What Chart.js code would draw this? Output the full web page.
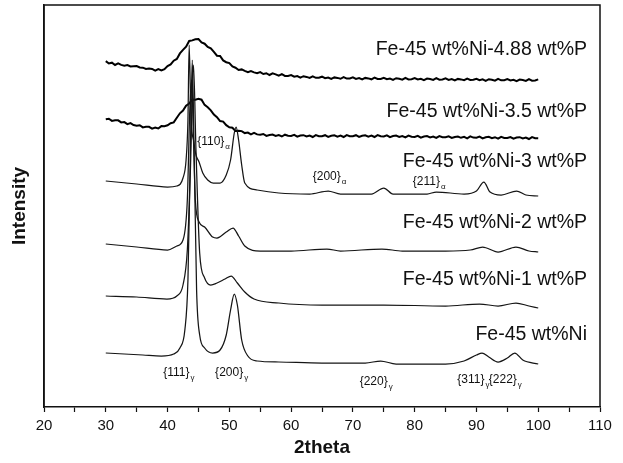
<!DOCTYPE html>
<html>
<head>
<meta charset="utf-8">
<script src="https://cdn.jsdelivr.net/npm/chart.js@4.4.1/dist/chart.umd.min.js"></script>
<style>
  html, body { margin: 0; padding: 0; background: #fff; }
  #wrap { width: 623px; height: 463px; }
</style>
</head>
<body>
<div id="wrap"><canvas id="xrd"></canvas></div>
<script>
// x axis ticks (2theta)
const xTickLabels = [20, 30, 40, 50, 60, 70, 80, 90, 100, 110];

// series names
const seriesNames = [
    "Fe-45 wt%Ni",
    "Fe-45 wt%Ni-1 wt%P",
    "Fe-45 wt%Ni-2 wt%P",
    "Fe-45 wt%Ni-3 wt%P",
    "Fe-45 wt%Ni-3.5 wt%P",
    "Fe-45 wt%Ni-4.88 wt%P"
];

// Fe-45 wt%Ni (stacked intensity, arbitrary units)
const niAngles = [30, 33, 36, 39, 41, 42, 42.8, 43.3, 43.7, 44.0, 44.3, 44.7, 45.2, 46, 47.3, 48.5, 49.5, 50.2, 50.8, 51.3, 52, 53, 54.5, 58, 65, 72, 74.5, 77, 85, 88, 90, 90.9, 92, 93.5, 95, 96.2, 97.5, 100];
const niValues = [54, 53, 52, 51, 53, 59, 77, 127, 257, 347, 257, 117, 72, 59, 54, 57, 72, 97, 113, 102, 67, 51, 46, 45, 44, 44, 46, 43, 43, 46, 52, 54, 50, 45, 49, 54, 47, 43];

// Fe-45 wt%Ni-1 wt%P
const p1Angles = [30, 35, 39.9, 41.5, 42.5, 43.2, 43.7, 44.2, 44.6, 45.2, 46, 47, 48, 49.3, 50.3, 51.3, 52.5, 54, 58, 65, 75, 85, 90.5, 93.5, 96.4, 98.5, 100];
const p1Values = [111, 110, 108, 111, 122, 157, 237, 342, 257, 154, 129, 122, 124, 128, 131, 124, 115, 108, 104, 102, 102, 101, 103, 101, 104, 101, 99];

// Fe-45 wt%Ni-2 wt%P
const p2Angles = [30, 35, 40, 41.5, 42.5, 43.2, 43.6, 43.9, 44.2, 44.5, 45.1, 46, 47.3, 48, 49.5, 50.6, 51.5, 52.5, 55, 60, 65.8, 68, 74.7, 78, 85, 89, 91, 93.5, 96.4, 98.5, 100];
const p2Values = [163, 160, 157, 161, 167, 207, 297, 327, 267, 207, 185, 180, 170, 169, 175, 179, 171, 161, 156, 156, 158, 156, 158, 156, 156, 157, 160, 155, 160, 156, 155];

// Fe-45 wt%Ni-3 wt%P
const p3Angles = [30, 35, 40, 41.5, 42.5, 43.0, 43.3, 43.5, 43.8, 44.2, 44.6, 45.1, 45.7, 46.5, 47.4, 48.5, 49.5, 50.2, 50.8, 51.1, 51.5, 52, 52.5, 54.5, 58, 63, 66, 68, 73, 75, 76.5, 82, 83.5, 88, 90, 91.2, 92.2, 94, 96.5, 98, 100];
const p3Values = [226, 223, 220, 221, 229, 247, 287, 362, 287, 267, 252, 245, 234, 227, 224, 224, 232, 247, 274, 280, 267, 242, 224, 217, 214, 213, 216, 213, 213, 219, 213, 213, 215, 213, 216, 225, 215, 212, 216, 212, 211];

// noisy scans are sampled every 0.5 deg from 30 to 100
const noisyAngles = Array.from({ length: 141 }, (_, i) => 30 + i * 0.5);

// Fe-45 wt%Ni-3.5 wt%P
const p35Values = [
    287.7, 288.3, 286.1, 286.7, 286.7, 284.6, 284.9, 282.8, 283.9, 282,
    281.2, 281.8, 279.6, 280.2, 280.2, 278.4, 279.4, 278.5, 280.9, 280.8,
    281.7, 283.8, 284.6, 289.2, 293.7, 296.4, 301.4, 303.5, 307.4, 307.3,
    308.2, 307.3, 302.1, 299.7, 296.7, 292.4, 289.9, 286, 285.4, 281.8,
    279.7, 279.3, 276.1, 276.2, 275.9, 273.9, 274.4, 272.6, 274.1, 272.6,
    272.2, 273, 271.1, 272, 272.4, 271, 271.9, 270.5, 272.3, 271.2,
    271, 272.1, 270.3, 271.4, 271.8, 270.5, 271.5, 270, 271.9, 270.8,
    270.7, 271.8, 270.1, 271.2, 271.7, 270.4, 271.4, 270, 271.9, 270.8,
    270.7, 271.8, 270.1, 271.2, 271.7, 270.4, 271.4, 270, 271.9, 270.8,
    270.6, 271.7, 269.9, 271, 271.4, 270.1, 271, 269.6, 271.4, 270.3,
    270.1, 271.2, 269.4, 270.5, 270.9, 269.6, 270.5, 269.1, 270.9, 269.8,
    269.7, 270.7, 269, 270, 270.5, 269.2, 270.1, 268.7, 270.6, 269.4,
    269.3, 270.4, 268.6, 269.7, 270.2, 268.8, 269.8, 268.4, 270.2, 269.1,
    269, 270, 268.3, 269.4, 269.8, 268.5, 269.5, 268, 269.9, 268.8,
    268.7
];

// Fe-45 wt%Ni-4.88 wt%P
const p488Values = [
    345.9, 343.5, 344.3, 342, 343.6, 342.1, 341.3, 342, 340.6, 340.8,
    340.9, 339.5, 339.3, 338, 338.6, 338.1, 336.3, 338, 336.6, 337.8,
    340.9, 342.5, 346.3, 348, 353.6, 357.1, 360.3, 366, 366.6, 367.8,
    367.9, 364.5, 363.3, 360, 358.6, 355.1, 351.3, 351, 346.6, 344.8,
    343.9, 340.5, 339.3, 337, 337.6, 336.1, 334.8, 336, 334.6, 333.8,
    334.9, 333, 333.8, 332, 333.6, 332.6, 331.3, 332.8, 331.1, 331,
    331.9, 330.3, 330.9, 329.4, 330.8, 330.1, 329.1, 330.7, 329.2, 329.3,
    330.3, 328.8, 329.5, 328.1, 329.6, 329.1, 328.2, 329.8, 328.4, 328.5,
    329.6, 328.1, 328.9, 327.5, 329.1, 328.6, 327.7, 329.4, 328, 328.1,
    329.2, 327.8, 328.5, 327.2, 328.8, 328.2, 327.4, 329.1, 327.6, 327.8,
    328.9, 327.5, 328.2, 326.9, 328.5, 327.9, 327.1, 328.8, 327.3, 327.5,
    328.6, 327.1, 327.9, 326.6, 328.1, 327.6, 326.8, 328.4, 327, 327.2,
    328.2, 326.8, 327.6, 326.2, 327.8, 327.3, 326.4, 328.1, 326.7, 326.8,
    327.9, 326.5, 327.2, 325.9, 327.5, 326.9, 326.1, 327.8, 326.3, 326.5,
    327.6
];

// text placed on the plot, in data coordinates
const curveLabels = [
    { text: "Fe-45 wt%Ni-4.88 wt%P", x: 107.9, y: 357 },
    { text: "Fe-45 wt%Ni-3.5 wt%P", x: 107.9, y: 295 },
    { text: "Fe-45 wt%Ni-3 wt%P", x: 107.9, y: 245 },
    { text: "Fe-45 wt%Ni-2 wt%P", x: 107.9, y: 184 },
    { text: "Fe-45 wt%Ni-1 wt%P", x: 107.9, y: 127 },
    { text: "Fe-45 wt%Ni", x: 107.9, y: 72 }
];
const peakLabels = [
    { text: "{110}", sub: "α", x: 44.8, y: 265 },
    { text: "{200}", sub: "α", x: 63.5, y: 230 },
    { text: "{211}", sub: "α", x: 79.7, y: 225 },
    { text: "{111}", sub: "γ", x: 39.3, y: 34 },
    { text: "{200}", sub: "γ", x: 47.7, y: 34 },
    { text: "{220}", sub: "γ", x: 71.1, y: 25 },
    { text: "{311}", sub: "γ", x: 86.9, y: 27 },
    { text: "{222}", sub: "γ", x: 92.0, y: 27 }
];

function toPoints(xs, ys) {
    return xs.map((x, i) => ({ x: x, y: ys[i] }));
}

const FONT = "'Liberation Sans', Arial, sans-serif";

// frame + annotations
const annotatePlugin = {
    id: "annotate",
    afterDatasetsDraw(chart) {
        const ctx = chart.ctx;
        const xs = chart.scales.x;
        const ys = chart.scales.y;
        const a = chart.chartArea;

        ctx.save();
        ctx.strokeStyle = "#111";
        ctx.lineWidth = 1.5;
        ctx.beginPath();
        ctx.moveTo(a.left, a.bottom);
        ctx.lineTo(a.left, a.top);
        ctx.lineTo(a.right, a.top);
        ctx.lineTo(a.right, a.bottom);
        ctx.stroke();

        ctx.fillStyle = "#111";
        ctx.textBaseline = "middle";
        ctx.textAlign = "right";
        ctx.font = "19.5px " + FONT;
        curveLabels.forEach(l => {
            ctx.fillText(l.text, xs.getPixelForValue(l.x), ys.getPixelForValue(l.y));
        });

        ctx.textAlign = "left";
        peakLabels.forEach(l => {
            const px = xs.getPixelForValue(l.x);
            const py = ys.getPixelForValue(l.y);
            ctx.font = "12px " + FONT;
            ctx.fillText(l.text, px, py);
            const w = ctx.measureText(l.text).width;
            ctx.font = "8px " + FONT;
            ctx.fillText(l.sub, px + w + 1, py + 5);
        });
        ctx.restore();
    }
};

const thin = { borderColor: "#151515", borderWidth: 1.25, cubicInterpolationMode: "monotone" };
const thick = { borderColor: "#000", borderWidth: 2, tension: 0 };

new Chart(document.getElementById("xrd"), {
    type: "scatter",
    data: {
        datasets: [
            Object.assign({ label: seriesNames[0], data: toPoints(niAngles, niValues) }, thin),
            Object.assign({ label: seriesNames[1], data: toPoints(p1Angles, p1Values) }, thin),
            Object.assign({ label: seriesNames[2], data: toPoints(p2Angles, p2Values) }, thin),
            Object.assign({ label: seriesNames[3], data: toPoints(p3Angles, p3Values) }, thin),
            Object.assign({ label: seriesNames[4], data: toPoints(noisyAngles, p35Values) }, thick),
            Object.assign({ label: seriesNames[5], data: toPoints(noisyAngles, p488Values) }, thick)
        ].map(d => Object.assign(d, { showLine: true, pointRadius: 0, fill: false }))
    },
    options: {
        responsive: true,
        maintainAspectRatio: false,
        animation: false,
        layout: { padding: { top: 5, right: 23, left: 0, bottom: 0 } },
        plugins: {
            legend: { display: false },
            tooltip: { enabled: false }
        },
        scales: {
            x: {
                type: "linear",
                min: xTickLabels[0],
                max: xTickLabels[xTickLabels.length - 1],
                afterBuildTicks(scale) {
                    const t = [];
                    for (let v = scale.min; v <= scale.max; v += 5) t.push({ value: v });
                    scale.ticks = t;
                },
                afterFit(scale) { scale.height = 56; },
                ticks: {
                    color: "#111",
                    font: { family: FONT, size: 15 },
                    maxRotation: 0,
                    padding: 5,
                    callback: v => xTickLabels.includes(v) ? String(v) : ""
                },
                grid: {
                    drawOnChartArea: false,
                    color: "#111",
                    tickLength: 5,
                    tickWidth: 1.2
                },
                border: { color: "#111", width: 1.5 },
                title: {
                    display: true,
                    text: "2theta",
                    color: "#111",
                    font: { family: FONT, size: 19, weight: "bold" },
                    padding: { top: 0, bottom: 4 }
                }
            },
            y: {
                min: 0,
                max: 402,
                afterFit(scale) { scale.width = 44; },
                ticks: { display: false },
                grid: { display: false },
                border: { color: "#111", width: 1.5 },
                title: {
                    display: true,
                    text: "Intensity",
                    color: "#111",
                    font: { family: FONT, size: 19, weight: "bold" },
                    padding: { top: 8, bottom: 0 }
                }
            }
        }
    },
    plugins: [annotatePlugin]
});
</script>
</body>
</html>
